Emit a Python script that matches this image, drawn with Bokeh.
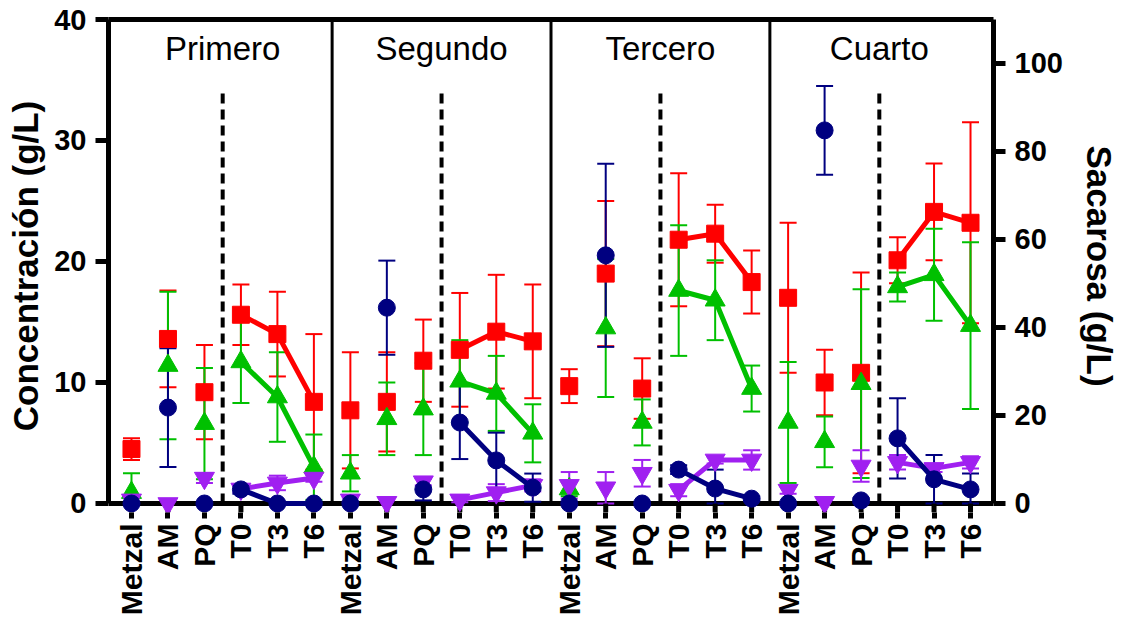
import math
from bokeh.plotting import figure
from bokeh.models import (ColumnDataSource, Whisker, TeeHead, LinearAxis, Range1d,
                          FixedTicker, Span)
from bokeh.core.properties import value
from bokeh.embed import file_html
from bokeh.resources import INLINE

# ---------------- data ----------------
paneles = ["Primero", "Segundo", "Tercero", "Cuarto"]
categorias = ["Metzal", "AM", "PQ", "T0", "T3", "T6"]

# red squares (g/L, left axis)
rojo_media = [4.5, 13.6, 9.2, 15.6, 14.0, 8.4,
              7.7, 8.4, 11.8, 12.7, 14.2, 13.4,
              9.7, 19.0, 9.5, 21.8, 22.3, 18.3,
              17.0, 10.0, 10.8, 20.1, 24.1, 23.2]
rojo_err = [0.9, 4.0, 3.9, 2.5, 3.5, 5.6,
            4.8, 4.1, 3.4, 4.7, 4.7, 4.7,
            1.4, 6.0, 2.5, 5.5, 2.4, 2.6,
            6.2, 2.7, 8.3, 1.9, 4.0, 8.3]

# green triangles (g/L, left axis)
verde_media = [0.9, 11.4, 6.6, 11.7, 8.8, 3.0,
               2.5, 7.0, 7.8, 10.1, 9.1, 5.8,
               1.2, 14.5, 6.7, 17.6, 16.8, 9.5,
               6.7, 5.1, 9.9, 17.9, 18.9, 14.7]
verde_err = [1.6, 6.1, 4.6, 3.4, 3.7, 2.7,
             1.5, 3.0, 3.8, 3.4, 3.1, 2.4,
             0.6, 5.7, 1.9, 5.4, 3.3, 1.9,
             5.0, 2.1, 7.8, 1.2, 3.8, 6.9]

# navy circles: Sacarosa (g/L, right axis)
sacarosa_media = [0.0, 21.8, 0.0, 3.2, 0.0, 0.0,
                  0.0, 44.5, 3.2, 18.4, 9.8, 3.6,
                  0.0, 56.4, 0.0, 7.7, 3.4, 1.1,
                  0.0, 84.8, 0.7, 14.8, 5.5, 3.2]
sacarosa_err = [0.0, 13.5, 0.0, 1.0, 0.0, 0.0,
                0.0, 10.7, 2.5, 8.3, 6.3, 3.2,
                0.0, 20.8, 0.0, 1.0, 4.3, 0.5,
                0.0, 10.1, 0.5, 9.1, 5.5, 3.6]

# purple inverted triangles (g/L, left axis)
morado_media = [0.3, 0.0, 2.1, 1.2, 1.7, 2.1,
                0.3, 0.1, 1.8, 0.3, 0.9, 1.5,
                1.5, 1.3, 2.5, 1.1, 3.6, 3.6,
                1.1, 0.1, 3.1, 3.4, 2.9, 3.4]
morado_err = [0.3, 0.0, 0.4, 0.3, 0.6, 0.3,
              0.2, 0.0, 0.3, 0.2, 0.7, 0.5,
              1.1, 1.3, 1.1, 0.5, 0.3, 0.8,
              0.3, 0.0, 1.3, 0.6, 0.3, 0.5]

y_ticks_izq = [0, 10, 20, 30, 40]
y_ticks_der = [0, 20, 40, 60, 80, 100]
y_max_izq = 40
y_max_der = 110

# ---------------- figure ----------------
FONT = "Liberation Sans"
n_cat = len(categorias)
n_tot = n_cat * len(paneles)
xs = list(range(n_tot))

# small room below zero so markers sitting on 0 are not cut by the frame
pad = 0.744
p = figure(width=1128, height=624, output_backend="svg", toolbar_location=None,
           x_range=Range1d(-0.63, n_tot - 1 + 0.63),
           y_range=Range1d(-pad, y_max_izq),
           min_border_left=108, min_border_right=135, min_border_top=19,
           min_border_bottom=112)
p.extra_y_ranges = {"sac": Range1d(-pad * y_max_der / y_max_izq, y_max_der)}
p.xgrid.visible = False
p.ygrid.visible = False
p.outline_line_color = None
p.background_fill_color = "white"
p.border_fill_color = "white"

# x axis line at y = 0 and the upper part of its ticks (under the markers)
p.add_layout(Span(location=0, dimension="width", line_color="black",
                  line_width=5, level="underlay"))
p.segment(x0=xs, y0=[0] * n_tot, x1=xs, y1=[-pad] * n_tot,
          line_color="black", line_width=5)

# x axis: lower part of ticks and labels
xa = p.xaxis[0]
xa.axis_line_color = None
xa.ticker = FixedTicker(ticks=xs)
xa.major_label_overrides = {i: categorias[i % n_cat] for i in xs}
xa.major_label_orientation = math.pi / 2
xa.minor_tick_line_color = None
xa.major_tick_out = 6
xa.major_tick_in = 0
xa.major_tick_line_width = 5
xa.major_tick_line_color = "black"
xa.major_label_text_font = FONT
xa.major_label_text_font_style = "bold"
xa.major_label_text_font_size = "30px"
xa.major_label_text_color = "black"
xa.major_label_standoff = 5

# top border as an empty axis
top = LinearAxis(ticker=FixedTicker(ticks=[]), major_label_text_font_size="0px",
                 major_tick_line_color=None, minor_tick_line_color=None,
                 axis_line_width=5, axis_line_color="black")
p.add_layout(top, "above")

# left axis
ya = p.yaxis[0]
ya.bounds = (0, y_max_izq)
ya.ticker = FixedTicker(ticks=y_ticks_izq)
ya.minor_tick_line_color = None
ya.major_tick_out = 13
ya.major_tick_in = 0
ya.major_tick_line_width = 5
ya.axis_line_width = 5
ya.axis_line_color = "black"
ya.major_tick_line_color = "black"
ya.major_label_text_font = FONT
ya.major_label_text_font_style = "bold"
ya.major_label_text_font_size = "29px"
ya.major_label_text_color = "black"
ya.major_label_standoff = 9
ya.axis_label = "Concentración (g/L)"
ya.axis_label_text_font = FONT
ya.axis_label_text_font_style = "bold"
ya.axis_label_text_font_size = "35px"
ya.axis_label_text_color = "black"
ya.axis_label_standoff = 6

# right axis
ra = LinearAxis(y_range_name="sac", ticker=FixedTicker(ticks=y_ticks_der))
ra.bounds = (0, y_max_der)
ra.minor_tick_line_color = None
ra.major_tick_out = 12
ra.major_tick_in = 0
ra.major_tick_line_width = 5
ra.axis_line_width = 5
ra.axis_line_color = "black"
ra.major_tick_line_color = "black"
ra.major_label_text_font = FONT
ra.major_label_text_font_style = "bold"
ra.major_label_text_font_size = "29px"
ra.major_label_text_color = "black"
ra.major_label_standoff = 9
ra.axis_label = "Sacarosa (g/L)"
ra.axis_label_text_font = FONT
ra.axis_label_text_font_style = "bold"
ra.axis_label_text_font_size = "35px"
ra.axis_label_text_color = "black"
ra.axis_label_standoff = 14
p.add_layout(ra, "right")

# panel dividers
div_x = [k * n_cat - 0.5 for k in range(1, len(paneles))]
p.segment(x0=div_x, y0=[0] * len(div_x), x1=div_x, y1=[y_max_izq] * len(div_x),
          line_color="black", line_width=3)

# dashed separators between PQ and T0
sep_x = [k * n_cat + 2.5 for k in range(len(paneles))]
p.segment(x0=sep_x, y0=[0] * len(sep_x), x1=sep_x, y1=[34.3] * len(sep_x),
          line_color="black", line_width=4, line_dash="10 6")

# panel titles
p.text(x=[k * n_cat + 2.5 for k in range(len(paneles))], y=[37.6] * len(paneles),
       text=paneles, text_font=value(FONT), text_font_size="33px",
       text_align="center", text_baseline="middle", text_color="black")


def serie(media, err, color, marker, size, range_name="default"):
    idx = [i for i in xs if err[i] > 0]
    src_err = ColumnDataSource(dict(
        x=idx,
        upper=[media[i] + err[i] for i in idx],
        lower=[max(media[i] - err[i], 0) for i in idx]))
    w = Whisker(base="x", upper="upper", lower="lower", source=src_err,
                line_color=color, line_width=2,
                upper_head=TeeHead(size=17, line_color=color, line_width=2),
                lower_head=TeeHead(size=17, line_color=color, line_width=2))
    if range_name != "default":
        w.y_range_name = range_name
    p.add_layout(w)
    for k in range(len(paneles)):
        seg = [k * n_cat + j for j in (3, 4, 5)]
        p.line(x=seg, y=[media[i] for i in seg], line_color=color, line_width=5,
               y_range_name=range_name)
    p.scatter(x=xs, y=media, marker=marker, size=size, fill_color=color,
              line_color=color, y_range_name=range_name)


serie(rojo_media, rojo_err, "#FF0000", "square", 17)
serie(verde_media, verde_err, "#00C000", "triangle", 20)
serie(morado_media, morado_err, "#A020F0", "inverted_triangle", 20)
serie(sacarosa_media, sacarosa_err, "#000080", "circle", 17, "sac")

open("out.html", "w").write(file_html(p, INLINE))
